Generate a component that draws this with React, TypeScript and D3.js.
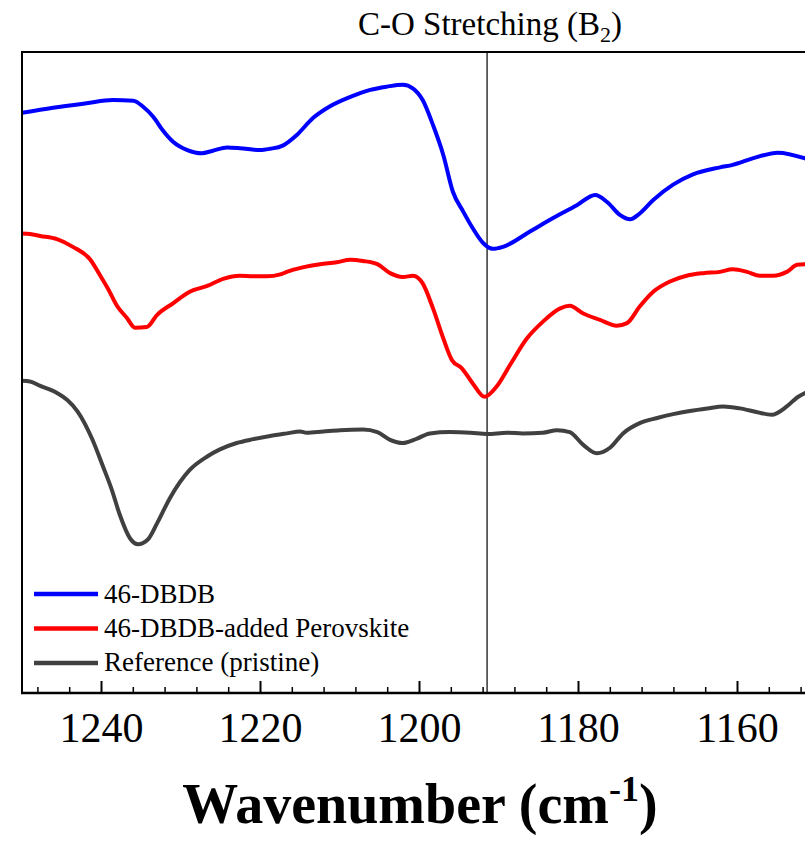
import React from "react";
import * as d3 from "d3";

// wavenumber (cm-1) and intensity (a.u., offset traces)
const blueWn = [1250.0, 1246.1, 1241.9, 1238.6, 1236.0, 1234.8, 1233.5, 1232.3, 1231.0, 1229.2, 1227.4, 1226.0, 1224.2, 1222.6, 1220.1, 1218.8, 1217.2, 1215.4, 1213.4, 1211.3, 1208.7, 1206.2, 1204.1, 1202.1, 1200.8, 1199.6, 1198.3, 1197.0, 1195.8, 1194.5, 1193.3, 1192.0, 1190.8, 1189.5, 1186.1, 1183.2, 1180.2, 1177.9, 1176.4, 1174.8, 1173.5, 1172.3, 1170.6, 1168.1, 1165.6, 1162.2, 1160.6, 1158.1, 1154.9, 1151.5];
const blueVal = [90.5, 91.3, 92.0, 92.5, 92.4, 91.5, 89.9, 87.8, 86.0, 84.7, 84.2, 84.6, 85.1, 85.0, 84.7, 84.9, 85.4, 87.1, 89.7, 91.5, 93.0, 94.1, 94.6, 94.9, 94.3, 92.5, 88.6, 83.9, 78.2, 75.1, 72.5, 70.2, 69.3, 69.6, 72.0, 74.1, 76.1, 77.7, 76.6, 74.6, 73.9, 74.8, 76.9, 79.3, 80.9, 82.0, 82.4, 83.4, 84.3, 83.4];

const redWn = [1250.0, 1249.0, 1247.7, 1245.6, 1243.6, 1241.4, 1240.2, 1239.2, 1238.1, 1236.8, 1235.8, 1234.3, 1233.0, 1231.0, 1228.9, 1226.7, 1224.7, 1222.6, 1220.9, 1219.2, 1217.5, 1216.7, 1214.7, 1212.5, 1210.4, 1208.7, 1207.1, 1205.3, 1203.7, 1202.1, 1200.8, 1199.6, 1198.3, 1197.0, 1195.9, 1194.7, 1193.3, 1191.8, 1190.3, 1188.6, 1186.5, 1184.5, 1182.3, 1181.1, 1179.4, 1177.3, 1175.2, 1173.9, 1172.3, 1170.6, 1168.5, 1166.4, 1164.3, 1162.2, 1160.6, 1158.8, 1157.2, 1155.5, 1153.8, 1152.5, 1151.5];
const redVal = [71.7, 71.6, 71.3, 70.8, 69.6, 67.6, 65.2, 63.1, 60.5, 58.5, 57.0, 57.1, 59.0, 60.8, 62.6, 63.5, 64.6, 65.1, 65.0, 65.0, 65.3, 65.7, 66.4, 66.9, 67.2, 67.6, 67.4, 66.9, 65.5, 64.9, 65.1, 63.9, 60.0, 55.3, 51.9, 50.7, 48.3, 46.2, 47.8, 51.2, 55.3, 57.9, 60.0, 60.4, 59.2, 58.2, 57.3, 57.7, 60.3, 62.6, 64.2, 65.1, 65.5, 65.7, 66.1, 65.7, 65.1, 65.1, 65.7, 66.8, 66.9];

const grayWn = [1250.0, 1249.0, 1247.7, 1245.6, 1244.3, 1243.0, 1241.2, 1239.8, 1238.7, 1237.7, 1236.4, 1235.4, 1234.2, 1233.0, 1231.4, 1228.9, 1226.7, 1225.1, 1223.0, 1220.9, 1218.8, 1216.7, 1215.0, 1214.2, 1212.1, 1210.0, 1207.1, 1205.3, 1203.7, 1202.1, 1200.3, 1198.7, 1196.2, 1193.6, 1191.5, 1189.0, 1187.0, 1184.5, 1182.7, 1181.1, 1179.4, 1177.7, 1176.0, 1174.4, 1172.3, 1170.1, 1168.1, 1166.0, 1163.8, 1161.8, 1159.7, 1157.5, 1155.7, 1153.8, 1152.5, 1151.5];
const grayVal = [48.7, 48.6, 47.9, 46.8, 45.7, 43.9, 39.7, 35.3, 31.7, 27.8, 24.1, 23.2, 23.9, 26.5, 30.4, 34.8, 36.9, 38.0, 39.0, 39.6, 40.1, 40.5, 40.8, 40.6, 40.8, 41.0, 41.1, 40.7, 39.5, 39.0, 39.7, 40.5, 40.7, 40.6, 40.4, 40.6, 40.5, 40.6, 41.0, 40.7, 38.7, 37.4, 38.3, 40.5, 42.1, 42.9, 43.5, 44.0, 44.4, 44.7, 44.4, 43.8, 43.4, 44.7, 46.1, 46.8];

const seriesNames = ["46-DBDB", "46-DBDB-added Perovskite", "Reference (pristine)"];
const seriesColors = ["#0000ff", "#ff0000", "#404040"];
const majorTicks = [1240, 1220, 1200, 1180, 1160];
const markerWn = 1191.5;
const titleText = "C-O Stretching (B";

const W = 805;
const H = 842;
const L = 22, R = 817, T = 52, B = 693;
const FONT = "Liberation Serif";

export default function App() {
  const x = d3.scaleLinear().domain([1250, 1150]).range([L, R]);
  const y = d3.scaleLinear().domain([0, 100]).range([B, T]);
  const line = d3
    .line<[number, number]>()
    .x((d) => x(d[0]))
    .y((d) => y(d[1]))
    .curve(d3.curveMonotoneX);

  const series = [
    d3.zip(blueWn, blueVal) as [number, number][],
    d3.zip(redWn, redVal) as [number, number][],
    d3.zip(grayWn, grayVal) as [number, number][],
  ];

  const minorTicks = d3.range(1152, 1249, 4).filter((v) => (v - 1160) % 20 !== 0);
  const ts = { fontFamily: FONT } as React.CSSProperties;

  return (
    <svg
      width={W}
      height={H}
      style={{ position: "absolute", left: 0, top: 0, background: "#fff", fontFamily: FONT }}
    >
      <defs>
        <clipPath id="plotclip">
          <rect x={L} y={T} width={R - L} height={B - T} />
        </clipPath>
      </defs>
      <rect x={0} y={0} width={W} height={H} fill="#fff" />

      {/* title */}
      <text x={490} y={35} fontSize={33} textAnchor="middle" fill="#000" style={ts}>
        {titleText}
        <tspan fontSize={22} dy={7}>2</tspan>
        <tspan dy={-7}>)</tspan>
      </text>

      {/* marker line */}
      <line x1={x(markerWn)} x2={x(markerWn)} y1={T} y2={B} stroke="#000" strokeWidth={1.2} />

      {/* curves */}
      <g clipPath="url(#plotclip)">
        {series.map((s, i) => (
          <path
            key={i}
            d={line(s) || ""}
            fill="none"
            stroke={seriesColors[i]}
            strokeWidth={4}
            strokeLinejoin="round"
            strokeLinecap="round"
          />
        ))}
      </g>

      {/* frame */}
      <line x1={L} x2={R} y1={T} y2={T} stroke="#000" strokeWidth={2} />
      <line x1={L} x2={L} y1={T - 1} y2={B + 1} stroke="#000" strokeWidth={2} />
      <line x1={R} x2={R} y1={T - 1} y2={B + 1} stroke="#000" strokeWidth={2} />
      <line x1={L - 1} x2={R} y1={B} y2={B} stroke="#000" strokeWidth={2.5} />

      {/* ticks */}
      {majorTicks.map((t) => (
        <g key={"M" + t}>
          <line x1={x(t)} x2={x(t)} y1={B} y2={B - 12} stroke="#000" strokeWidth={2} />
          <text x={x(t)} y={742} fontSize={42} textAnchor="middle" fill="#000" style={ts}>
            {t}
          </text>
        </g>
      ))}
      {minorTicks.map((t) => (
        <line key={"m" + t} x1={x(t)} x2={x(t)} y1={B} y2={B - 6} stroke="#000" strokeWidth={1.5} />
      ))}

      {/* axis title */}
      <text x={420} y={823} fontSize={56} fontWeight="bold" textAnchor="middle" fill="#000" style={ts}>
        Wavenumber (cm
        <tspan fontSize={36} dy={-22}>-1</tspan>
        <tspan dy={22}>)</tspan>
      </text>

      {/* legend */}
      {seriesNames.map((n, i) => (
        <g key={n}>
          <line x1={34} x2={98} y1={594 + i * 34.5} y2={594 + i * 34.5} stroke={seriesColors[i]} strokeWidth={4.5} />
          <text x={104} y={603 + i * 34} fontSize={27} fill="#000" style={ts}>
            {n}
          </text>
        </g>
      ))}
    </svg>
  );
}
